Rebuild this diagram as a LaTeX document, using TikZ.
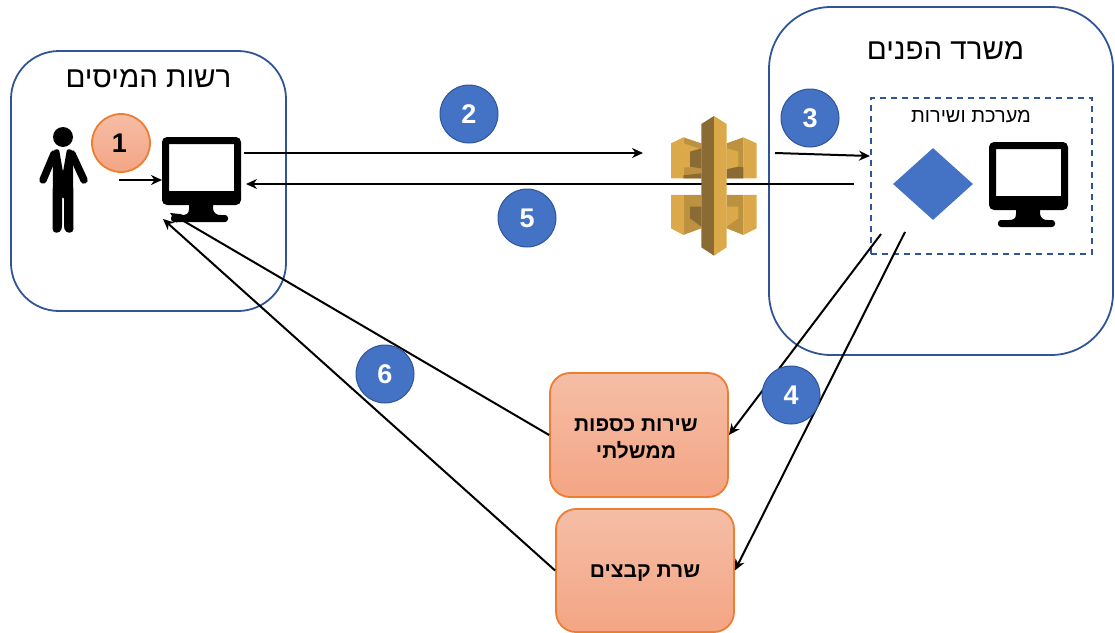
\documentclass[tikz,border=0pt]{standalone}
\usepackage{fontspec}
\setmainfont{Liberation Sans}
\newfontfamily\hebfont[Script=Hebrew]{Liberation Sans}
\TeXXeTstate=1
\usetikzlibrary{shapes.geometric,arrows.meta}
\definecolor{frameblue}{HTML}{2F5597}
\definecolor{fillblue}{HTML}{4472C4}
\definecolor{edgeorange}{HTML}{ED7D31}
\definecolor{peachtop}{HTML}{F5BDA6}
\definecolor{peachbot}{HTML}{F4A584}
\definecolor{gold}{HTML}{DBA94A}
\definecolor{goldmid}{HTML}{BC9140}
\definecolor{golddark}{HTML}{8A6B33}
\newcommand{\heb}[1]{{\hebfont\beginR #1\endR}}
\tikzset{
  panel/.style={draw=frameblue,line width=1.8pt,rectangle},
  badge/.style={circle,minimum size=58pt,inner sep=0pt,draw=frameblue,line width=1pt,fill=fillblue,text=white,font=\bfseries\fontsize{27}{27}\selectfont},
  obadge/.style={circle,minimum size=58pt,inner sep=0pt,draw=edgeorange,line width=1.8pt,top color=peachtop,bottom color=peachbot,text=black,font=\bfseries\fontsize{27}{27}\selectfont},
  filebox/.style={rectangle,rounded corners=20pt,draw=edgeorange,line width=1.8pt,top color=peachtop,bottom color=peachbot,inner sep=0pt},
  boxtext/.style={inner sep=0pt,align=center,font=\fontsize{21}{27}\selectfont\bfseries},
  title/.style={font=\fontsize{29.5}{30}\selectfont,text=black},
  link/.style={draw=black,line width=2pt,-{Stealth[length=11pt,width=10pt]}},
  pics/screen/.style={code={
    \fill[black,even odd rule,rounded corners=5pt] (0,0) rectangle (79,68) [sharp corners] (7,7) rectangle (72,54);
    \fill[black] (27,66) -- (27,72) .. controls (27,77) and (24,78) .. (20,78) -- (59,78) .. controls (55,78) and (52,77) .. (51,72) -- (51,66) -- cycle;
    \fill[black,rounded corners=3pt] (9,78) rectangle (66,85);
  }},
  pics/man/.style={code={
    \fill[black] (-1,-40) circle (10);
    \fill[black,rounded corners=2pt] (-11,-27) -- (-5,-28) -- (-1,-5) -- (3,-28) -- (9,-27) -- (9.5,50) .. controls (9.5,57) and (1.5,57) .. (0,50) -- (0,20) -- (-2,20) -- (-2,50) .. controls (-3.5,57) and (-11.5,57) .. (-11.5,50) -- cycle;
    \draw[black,line width=7.5pt,line cap=round] (-10,-23) -- (-21,3);
    \draw[black,line width=7.5pt,line cap=round] (8,-23) -- (20,3);
  }}
}
\begin{document}
\begin{tikzpicture}[x=1pt,y=-1pt]
\useasboundingbox (0,0) rectangle (1115,632);
% containers
\node[panel,rounded corners=48pt,minimum width=275pt,minimum height=260pt,inner sep=0pt] (tax) at (148.5,181) {};
\node[panel,rounded corners=62pt,minimum width=344pt,minimum height=348pt,inner sep=0pt] (interior) at (941,181) {};
\node[rectangle,draw=frameblue,line width=1.8pt,dash pattern=on 6pt off 5pt,minimum width=221pt,minimum height=156pt,inner sep=0pt] (system) at (981.5,176) {};
\node[title] (taxtitle) at (148.5,79) {\heb{רשות המיסים}};
\node[title] (interiortitle) at (945.5,51) {\heb{משרד הפנים}};
\node[font=\fontsize{20}{20}\selectfont] (systemtitle) at (971,117) {\heb{מערכת ושירות}};
% connector ends
\coordinate (manout) at (119,180);
\coordinate (monin) at (162,180);
\coordinate (monout) at (244,153);
\coordinate (gatein) at (643,153);
\coordinate (backstart) at (854,184);
\coordinate (backend) at (246,184);
\coordinate (gateout) at (775,153);
\coordinate (sysin) at (870,156);
\coordinate (sysoutA) at (881,234);
\coordinate (sysoutB) at (905,232);
\coordinate (montipA) at (170,213);
\coordinate (montipB) at (163,219);
% boxes
\node[filebox,minimum width=178pt,minimum height=124pt] (boxA) at (639,435) {};
\node[filebox,minimum width=178pt,minimum height=123pt] (boxB) at (645,570.5) {};
\node[boxtext] (boxAtext) at (636,438.5) {\heb{שירות כספות}\\\heb{ממשלתי}};
\node[boxtext] (boxBtext) at (645,573) {\heb{שרת קבצים}};
% connectors
\draw[link] (manout) -- (monin);
\draw[link] (monout) -- (gatein);
\draw[link] (backstart) -- (backend);
\draw[link] (gateout) -- (sysin);
\draw[link] (sysoutA) -- (boxA.east);
\draw[link] (sysoutB) -- (boxB.east);
\draw[link] (boxA.west) -- (montipA);
\draw[link] (boxB.west) -- (montipB);
% icons
\pic at (162,137) {screen};
\pic at (989,142) {screen};
\pic at (64,177) {man};
\node[diamond,fill=fillblue,draw=none,aspect=1.11,minimum width=80pt,minimum height=72pt,inner sep=0pt] (decision) at (933,184) {};
% gateway
\begin{scope}[shift={(660,110)},x=0.3333pt,y=-0.3333pt]
\fill[gold] (33,100) -- (70,82) -- (70,205) -- (33,205) -- cycle;
\fill[goldmid] (70,82) -- (124,100) -- (124,205) -- (70,205) -- cycle;
\fill[gold] (70,100) -- (124,118) -- (90,125) -- (90,172) -- (70,172) -- cycle;
\fill[golddark] (90,125) -- (124,115) -- (124,175) -- (90,170) -- cycle;
\fill[golddark] (70,196) -- (124,190) -- (124,205) -- (70,205) -- cycle;
\fill[gold] (290,100) -- (250,82) -- (250,205) -- (290,205) -- cycle;
\fill[goldmid] (250,82) -- (200,100) -- (200,205) -- (250,205) -- cycle;
\fill[gold] (200,115) -- (235,125) -- (235,170) -- (200,178) -- cycle;
\fill[golddark] (200,178) -- (235,170) -- (250,172) -- (250,205) -- (200,205) -- cycle;
\fill[gold] (33,255) -- (70,255) -- (70,375) -- (33,355) -- cycle;
\fill[goldmid] (70,255) -- (124,255) -- (124,355) -- (70,375) -- cycle;
\fill[golddark] (90,290) -- (124,290) -- (124,350) -- (90,325) -- cycle;
\fill[gold] (290,255) -- (250,255) -- (250,375) -- (290,355) -- cycle;
\fill[goldmid] (250,255) -- (200,255) -- (200,355) -- (250,375) -- cycle;
\fill[gold] (200,290) -- (235,290) -- (235,325) -- (200,350) -- cycle;
\fill[golddark] (124,42) -- (162,18) -- (162,437) -- (124,412) -- cycle;
\fill[gold] (162,18) -- (200,42) -- (200,412) -- (162,437) -- cycle;
\end{scope}
% badges
\node[obadge] (n1) at (121,143) {\kern-3pt 1};
\node[badge] (n2) at (469,114) {2};
\node[badge] (n3) at (810,118) {3};
\node[badge] (n4) at (791,395) {4};
\node[badge] (n5) at (527,218) {5};
\node[badge] (n6) at (385,374) {6};
\end{tikzpicture}
\end{document}
